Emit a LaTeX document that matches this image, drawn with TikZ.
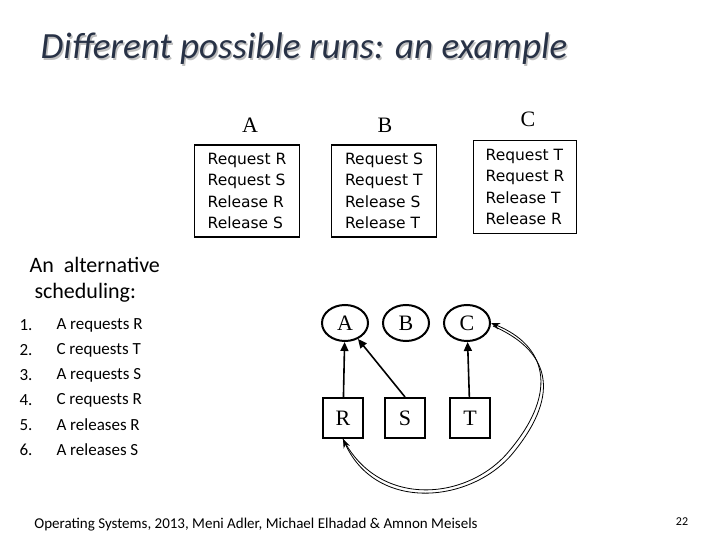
\documentclass[tikz,border=0pt]{standalone}
\usepackage{fontspec}
\setmainfont{Carlito}
\newfontfamily\boxfont{DejaVu Sans}
\newfontfamily\serifn{Liberation Serif}
\usetikzlibrary{arrows.meta, shapes.geometric}
\definecolor{titlecol}{RGB}{40,50,70}
\begin{document}
\begin{tikzpicture}
	[x=1pt, y=-1pt,
	prog/.style={draw = black, line width=1.6pt, align=left, font=\boxfont\fontsize{15.5}{21.5}\selectfont, inner sep=5pt},
	pname/.style={font=\serifn\fontsize{22}{24}\selectfont},
	proc/.style={draw = black, line width=2pt, shape = ellipse, minimum width=46, minimum height=36, font=\serifn\fontsize{22}{24}\selectfont},
	res/.style={draw = black, line width=2pt, shape = rectangle, minimum size=40, font=\serifn\fontsize{22}{24}\selectfont},
	edge/.style={-{Triangle[length=9pt,width=8pt]}, line width=1.6pt}
	]
	\useasboundingbox (0,0) rectangle (720,540);
	
	% Title
	\node[anchor=west, text=gray!50, font=\itshape\fontsize{37}{40}\selectfont](shadow) at (38.5,50.5){Different possible runs: an example};
	\node[anchor=west, text=titlecol, font=\itshape\fontsize{37}{40}\selectfont](title) at (37,49){Different possible runs: an example};
	
	% Programs
	\node[pname](nA) at (250,125){A};
	\node[pname](nB) at (385,125){B};
	\node[pname](nC) at (528,119){C};
	\node[prog, minimum width=105, minimum height=92](pA) at (247,191){Request R\\Request S\\Release R\\Release S};
	\node[prog, minimum width=105, minimum height=92](pB) at (384,191){Request S\\Request T\\Release S\\Release T};
	\node[prog, minimum width=103, minimum height=93](pC) at (525,187){Request T\\Request R\\Release T\\Release R};
	
	% Scheduling
	\node[anchor=west, align=left, font=\fontsize{22}{26}\selectfont](sched) at (26,280){An\ \ alternative\\\ scheduling:};
	\foreach \i/\t in {1/A requests R, 2/C requests T, 3/A requests S, 4/C requests R, 5/A releases R, 6/A releases S}
	{
		\node[anchor=west, font=\fontsize{17}{20}\selectfont](num\i) at (16,300+25*\i){\i.};
		\node[anchor=west, font=\fontsize{17}{20}\selectfont](step\i) at (53,300+25*\i){\t};
	}
	
	% Graph
	\node[proc](A) at (345,323){A};
	\node[proc](B) at (406,323){B};
	\node[proc](C) at (467,323){C};
	\node[res](R) at (343,418){R};
	\node[res](S) at (405,418){S};
	\node[res](T) at (470,418){T};
	
	\draw[edge] (R) -- (A);
	\draw[edge] (S.north) -- (A);
	\draw[edge] (T) -- (C);
	
	\draw[-{Stealth[length=9pt]}, thick] (R.south) .. controls (380,510) and (470,500) .. (510,450)
		.. controls (560,390) and (545,345) .. (C.east);
	\draw[-{Stealth[length=9pt]}, thick] (C.east) ++(2,3) .. controls (548,350) and (563,392) .. (513,453)
		.. controls (472,503) and (377,513) .. (R.south);
	
	% Footer
	\node[font=\fontsize{15}{17}\selectfont](foot) at (256,525){Operating Systems, 2013, Meni Adler, Michael Elhadad \& Amnon Meisels};
	\node[font=\fontsize{12}{14}\selectfont](page) at (682,522){22};
\end{tikzpicture}
\end{document}
